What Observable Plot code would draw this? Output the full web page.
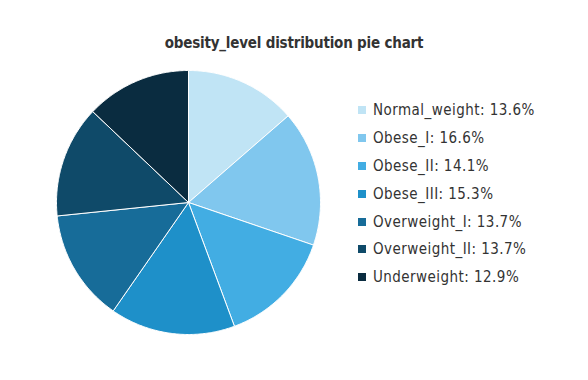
<!DOCTYPE html>
<html><head><meta charset="utf-8">
<script src="https://cdn.jsdelivr.net/npm/d3@7"></script>
<script src="https://cdn.jsdelivr.net/npm/@observablehq/plot@0.6"></script>
<style>
body{margin:0;background:#fff;}
#wrap{position:relative;width:588px;height:380px;overflow:hidden;font-family:"DejaVu Sans Condensed","DejaVu Sans",sans-serif;}
#title{position:absolute;left:0;width:588px;top:33px;text-align:center;font-weight:bold;font-size:15px;letter-spacing:-0.2px;color:#333;line-height:20px;}
#chart{position:absolute;left:0;top:0;}
#legend{position:absolute;left:358px;top:96px;}
.row{display:flex;align-items:center;height:27.9px;font-size:15px;letter-spacing:0.45px;color:#333;}
.sw{width:8px;height:8px;margin-right:7px;}
</style></head>
<body><div id="wrap"><div id="chart"></div><div id="title">obesity_level distribution pie chart</div><div id="legend"></div></div>
<script>
const categories = ["Normal_weight","Obese_I","Obese_II","Obese_III","Overweight_I","Overweight_II","Underweight"];
const percents = [13.6, 16.6, 14.1, 15.3, 13.7, 13.7, 12.9];
const colors = ["#c0e4f5","#80c7ee","#42ade3","#1e90c9","#176c99","#0f4a69","#0a2c40"];

const arcs = d3.pie().sort(null).value(d => d)(percents);
const pts = [];
arcs.forEach((a, i) => {
  pts.push({cat: categories[i], u: 0, v: 0});
  const n = Math.max(2, Math.ceil((a.endAngle - a.startAngle) / 0.01));
  for (let k = 0; k <= n; k++) {
    const t = a.startAngle + (a.endAngle - a.startAngle) * k / n;
    pts.push({cat: categories[i], u: Math.sin(t), v: Math.cos(t)});
  }
  pts.push({cat: categories[i], u: 0, v: 0});
});

const cx = 188, cy = 202, r = 132, W = 588, H = 380;
const plot = Plot.plot({
  width: W, height: H, margin: 0,
  x: {domain: [-cx / r, (W - cx) / r], range: [0, W], axis: null},
  y: {domain: [(cy - H) / r, cy / r], range: [H, 0], axis: null},
  color: {domain: categories, range: colors},
  marks: [
    Plot.line(pts, {x: "u", y: "v", z: "cat", fill: "cat", stroke: "#fff", strokeWidth: 1, curve: "linear"})
  ]
});
document.getElementById("chart").appendChild(plot);

const leg = d3.select("#legend");
categories.forEach((c, i) => {
  const row = leg.append("div").attr("class", "row");
  row.append("div").attr("class", "sw").style("background", colors[i]);
  row.append("span").text(`${c}: ${percents[i].toFixed(1)}%`);
});
</script></body></html>
